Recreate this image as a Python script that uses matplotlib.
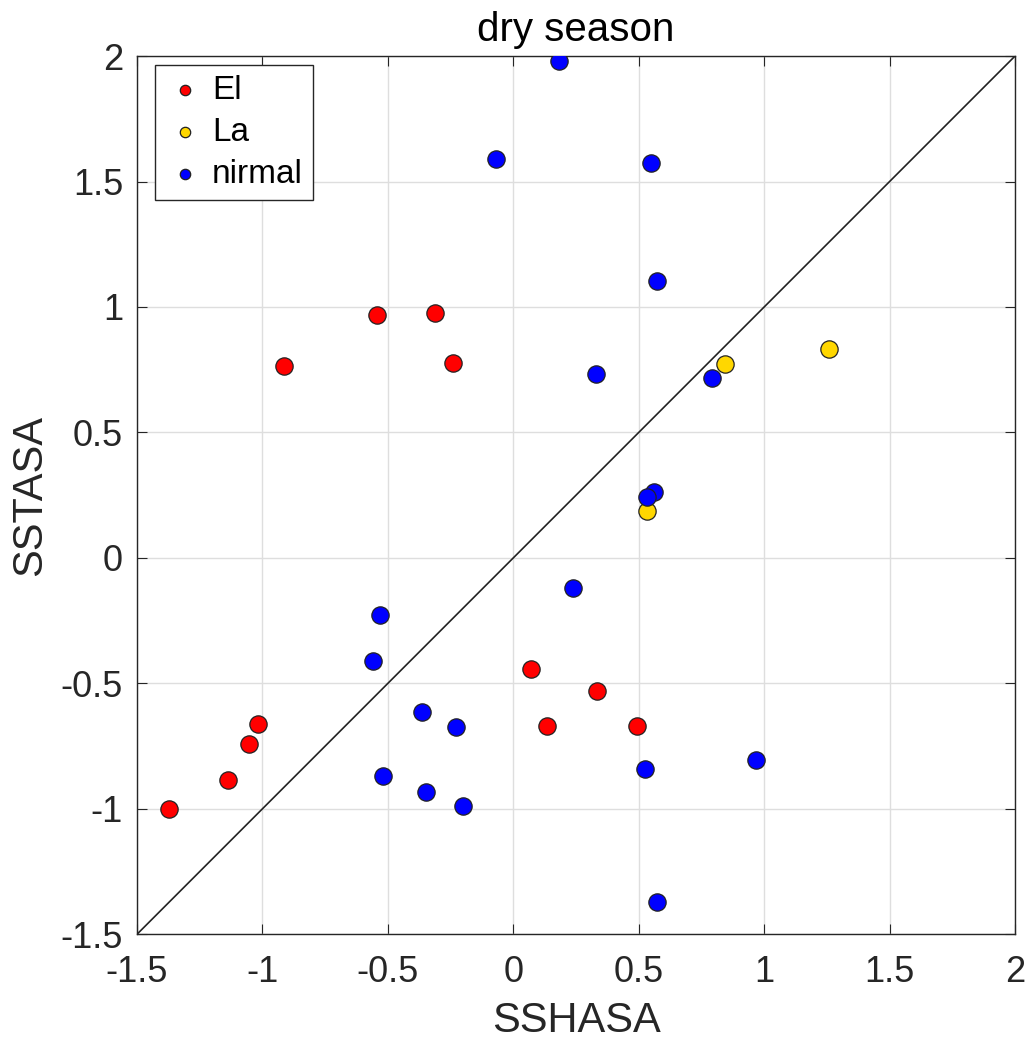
import numpy as np
import matplotlib.pyplot as plt

plt.rcParams['font.family'] = ['Liberation Sans', 'DejaVu Sans']

# El events
el_x = [-1.373, -1.138, -1.054, -1.018, -0.915, -0.544, -0.313, -0.242,
        0.069, 0.335, 0.135, 0.494]
el_y = [-1.0, -0.885, -0.742, -0.66, 0.765, 0.968, 0.976, 0.777,
        -0.444, -0.529, -0.67, -0.67]

# La events
la_x = [0.843, 1.257, 0.535]
la_y = [0.772, 0.833, 0.187]

# normal years
nm_x = [0.184, -0.07, 0.55, 0.571, 0.33, 0.793, 0.560, 0.535, 0.24,
        -0.531, -0.558, -0.365, -0.230, -0.518, -0.349, -0.202,
        0.527, 0.969, 0.571]
nm_y = [1.98, 1.59, 1.574, 1.104, 0.733, 0.717, 0.264, 0.243, -0.12,
        -0.228, -0.411, -0.616, -0.673, -0.871, -0.933, -0.988,
        -0.843, -0.806, -1.37]

ticks = [-1.5, -1, -0.5, 0, 0.5, 1, 1.5, 2]
tick_labels = ['-1.5', '-1', '-0.5', '0', '0.5', '1', '1.5', '2']

fig = plt.figure(figsize=(10.33, 10.48), dpi=100)
ax = fig.add_axes([0.1326, 0.1085, 0.85, 0.838])

dark = '#262626'
ax.plot([-1.5, 2], [-1.5, 2], color='#222222', lw=1.2, zorder=2)

mk = dict(s=155, edgecolors='#222222', linewidths=0.9, zorder=3)
ax.scatter(el_x, el_y, c='#ff0000', label='El', **mk)
ax.scatter(la_x, la_y, c='#ffd700', label='La', **mk)
ax.scatter(nm_x, nm_y, c='#0000ff', label='nirmal', **mk)

ax.set_xlim(-1.5, 2)
ax.set_ylim(-1.5, 2)
ax.set_xticks(ticks, tick_labels)
ax.set_yticks(ticks, tick_labels)
ax.grid(True, color='#dedede', lw=1.0, zorder=0)
ax.set_axisbelow(True)
ax.tick_params(direction='in', top=True, right=True, length=7,
               labelsize=26, colors=dark)
ax.tick_params(axis='x', pad=15)
ax.tick_params(axis='y', pad=10)
for sp in ax.spines.values():
    sp.set_color(dark)
    sp.set_linewidth(1.0)

ax.set_xlabel('SSHASA', fontsize=30, color=dark, labelpad=8)
ax.set_ylabel('SSTASA', fontsize=30, color=dark, labelpad=8)
ax.set_title('dry season', fontsize=29, color='black', pad=11)

leg = ax.legend(loc='upper left', fontsize=24, markerscale=0.6,
                handletextpad=0.2, borderpad=0.3, labelspacing=0.33,
                handlelength=1.2, fancybox=False, framealpha=1,
                borderaxespad=0, bbox_to_anchor=(0.021, 0.99))
leg.get_frame().set_edgecolor(dark)
leg.get_frame().set_linewidth(1.0)

fig.savefig('out.png', dpi=100)
